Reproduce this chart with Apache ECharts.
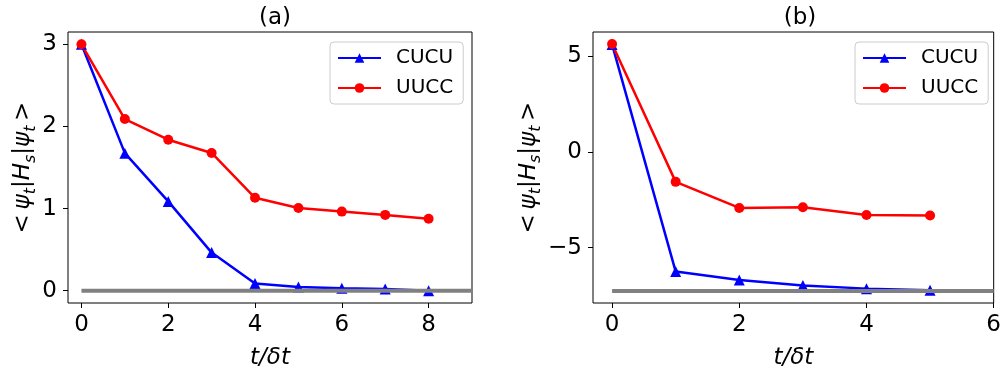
<!DOCTYPE html>
<html><head><meta charset="utf-8">
<script src="https://cdn.jsdelivr.net/npm/echarts@6/dist/echarts.min.js"></script>
<style>html,body{margin:0;padding:0;background:#fff}#c{width:1004px;height:375px}</style>
</head><body><div id="c"></div>
<script>
// Panel (a)
const stepsA = [0, 1, 2, 3, 4, 5, 6, 7, 8];
const cucuA = [3.0, 1.675, 1.087, 0.464, 0.088, 0.045, 0.03, 0.02, 0.0];
const uuccA = [3.0, 2.09, 1.838, 1.677, 1.131, 1.006, 0.963, 0.923, 0.875];
const refA = 0;
const refSpanA = [0, 9];
const xTicksA = [0, 2, 4, 6, 8];
const yTicksA = [0, 1, 2, 3];
// Panel (b)
const stepsB = [0, 1, 2, 3, 4, 5];
const cucuB = [5.6, -6.25, -6.69, -6.98, -7.14, -7.22];
const uuccB = [5.62, -1.57, -2.93, -2.89, -3.3, -3.32];
const refB = -7.26;
const refSpanB = [0, 6];
const xTicksB = [0, 2, 4, 6];
const yTicksB = [-5, 0, 5];
const seriesNames = ['CUCU', 'UUCC'];
const titles = ['(a)', '(b)'];

const FONT = 'DejaVu Sans';
const FS = 23;
const LFS = 20;
const pairs = (xs, ys) => xs.map((x, i) => [x, ys[i]]);
const fmt = v => String(v).replace('-', '\u2212');

const yName = '{n|<\u2009}{i|ψ}{s|t}{n||}{i|H}{s|s}{n||}{i|ψ}{s|t}{n|\u2009>}';
const yRich = {
  n: {fontFamily: FONT, fontSize: FS, color: '#000', lineHeight: 30, verticalAlign: 'middle'},
  i: {fontFamily: FONT, fontSize: FS, fontStyle: 'italic', color: '#000', lineHeight: 30, verticalAlign: 'middle'},
  s: {fontFamily: FONT, fontSize: 16, fontStyle: 'italic', color: '#000', lineHeight: 16, verticalAlign: 'bottom'}
};

function xAxis(idx, min, max, ticks) {
  return {
    type: 'value', gridIndex: idx, min: min, max: max,
    axisLine: {show: false, onZero: false},
    splitLine: {show: false},
    axisTick: {show: true, length: 5, lineStyle: {color: '#000', width: 1}, customValues: ticks},
    axisLabel: {customValues: ticks, formatter: fmt, fontFamily: FONT, fontSize: FS, color: '#000', margin: 11},
    name: 't/δt', nameLocation: 'middle', nameGap: 44,
    nameTextStyle: {fontFamily: FONT, fontSize: FS, fontStyle: 'italic', color: '#000'}
  };
}
function yAxis(idx, min, max, ticks, gap) {
  return {
    type: 'value', gridIndex: idx, min: min, max: max,
    axisLine: {show: false, onZero: false},
    splitLine: {show: false},
    axisTick: {show: true, length: 5, lineStyle: {color: '#000', width: 1}, customValues: ticks},
    axisLabel: {customValues: ticks, formatter: fmt, fontFamily: FONT, fontSize: FS, color: '#000', margin: 11},
    name: yName, nameLocation: 'middle', nameGap: gap, nameRotate: 90,
    nameTextStyle: {rich: yRich}
  };
}
function lineSeries(name, idx, data, color, symbol) {
  return {
    type: 'line', name: name, xAxisIndex: idx, yAxisIndex: idx, data: data,
    symbol: symbol, symbolSize: symbol === 'triangle' ? 11 : 10,
    lineStyle: {color: color, width: 2.5}, itemStyle: {color: color},
    animation: false, z: 3
  };
}
function refSeries(idx, span, val) {
  return {
    type: 'line', name: 'ref', xAxisIndex: idx, yAxisIndex: idx,
    data: span.map(x => [x, val]), symbol: 'none',
    lineStyle: {color: '#808080', width: 4}, animation: false, z: 4, silent: true
  };
}
function legend(left) {
  return {
    left: left, top: 42, orient: 'vertical', data: seriesNames,
    itemWidth: 43, itemHeight: 12, itemGap: 10,
    padding: [6, 10, 6, 7],
    borderColor: '#cccccc', borderWidth: 1, borderRadius: 4,
    textStyle: {fontFamily: FONT, fontSize: LFS, color: '#000', padding: [0, 0, 0, 10]}
  };
}

const chart = echarts.init(document.getElementById('c'), null, {renderer: 'canvas'});
chart.setOption({
  backgroundColor: '#fff',
  animation: false,
  title: [
    {text: titles[0], left: 270, top: 2, textAlign: 'center', textStyle: {fontFamily: FONT, fontSize: FS, fontWeight: 'normal', color: '#000'}},
    {text: titles[1], left: 795, top: 2, textAlign: 'center', textStyle: {fontFamily: FONT, fontSize: FS, fontWeight: 'normal', color: '#000'}}
  ],
  grid: [
    {left: 68, top: 32, width: 404, height: 275, show: true, borderColor: '#000', borderWidth: 1, backgroundColor: 'transparent'},
    {left: 593, top: 32, width: 403, height: 275, show: true, borderColor: '#000', borderWidth: 1, backgroundColor: 'transparent'}
  ],
  legend: [legend(330), legend(855)],
  xAxis: [xAxis(0, -0.31, 9, xTicksA), xAxis(1, -0.3, 6, xTicksB)],
  yAxis: [yAxis(0, -0.15, 3.15, yTicksA, 17), yAxis(1, -7.89, 6.25, yTicksB, 43)],
  series: [
    lineSeries(seriesNames[0], 0, pairs(stepsA, cucuA), '#0000ff', 'triangle'),
    lineSeries(seriesNames[1], 0, pairs(stepsA, uuccA), '#ff0000', 'circle'),
    refSeries(0, refSpanA, refA),
    lineSeries(seriesNames[0], 1, pairs(stepsB, cucuB), '#0000ff', 'triangle'),
    lineSeries(seriesNames[1], 1, pairs(stepsB, uuccB), '#ff0000', 'circle'),
    refSeries(1, refSpanB, refB)
  ]
});
</script></body></html>
